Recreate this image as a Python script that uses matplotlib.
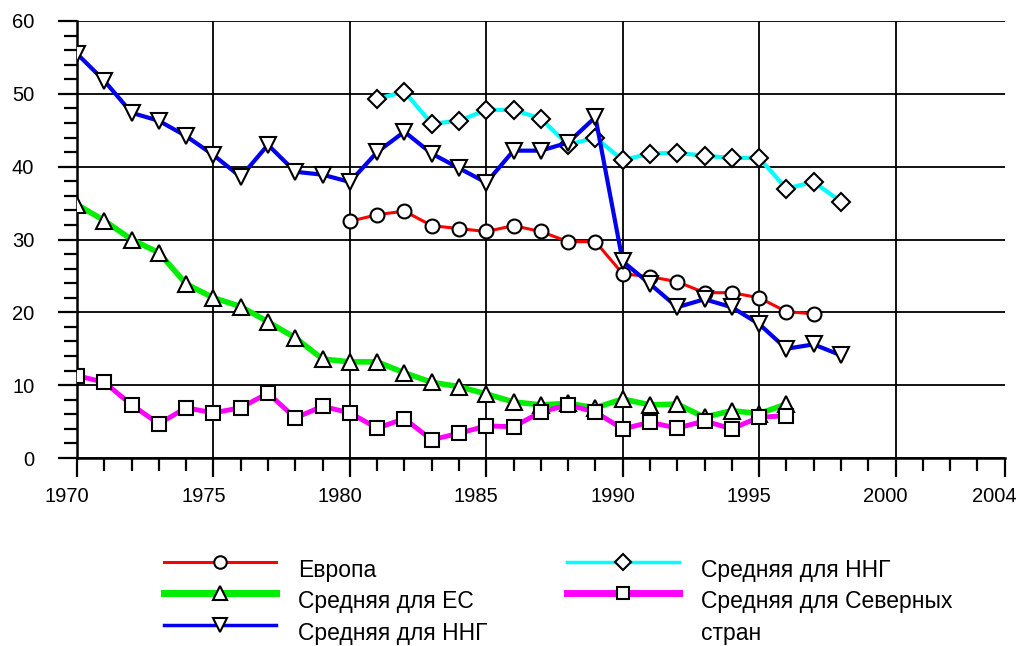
import numpy as np
import matplotlib
matplotlib.use('Agg')
import matplotlib.pyplot as plt
import matplotlib.transforms as mtransforms
from matplotlib.lines import Line2D
from matplotlib.ticker import MultipleLocator

plt.rcParams['font.family'] = ['Liberation Sans', 'DejaVu Sans']

# data
years_nng = list(range(1970, 1999))
nng_tri = [55.5, 51.8, 47.4, 46.3, 44.2, 41.6, 38.6, 43.0, 39.3, 38.9,
           37.9, 42.0, 44.8, 41.8, 39.8, 37.8, 42.2, 42.2, 43.3, 46.8,
           27.0, 23.9, 20.7, 21.8, 20.7, 18.4, 15.0, 15.6, 14.1]

years_nng2 = list(range(1981, 1999))
nng_dia = [49.3, 50.3, 45.9, 46.3, 47.8, 47.8, 46.6, 43.0, 44.0,
           40.9, 41.8, 41.9, 41.5, 41.2, 41.2, 37.0, 37.9, 35.2]

years_eur = list(range(1980, 1998))
europe = [32.5, 33.4, 33.9, 31.9, 31.5, 31.1, 31.9, 31.1, 29.7, 29.7,
          25.3, 24.9, 24.2, 22.7, 22.7, 22.0, 20.1, 19.8]

years_eu = list(range(1970, 1997))
eu = [34.8, 32.6, 30.0, 28.2, 23.9, 22.0, 20.8, 18.7, 16.5, 13.6,
      13.2, 13.2, 11.7, 10.4, 9.8, 8.8, 7.7, 7.3, 7.5, 6.9,
      8.1, 7.3, 7.4, 5.6, 6.5, 6.1, 7.4]

years_nord = list(range(1970, 1997))
nordic = [11.3, 10.4, 7.3, 4.7, 6.9, 6.2, 6.9, 8.9, 5.5, 7.1,
          6.2, 4.1, 5.4, 2.5, 3.4, 4.4, 4.3, 6.3, 7.3, 6.3,
          4.0, 4.9, 4.1, 5.1, 4.0, 5.6, 5.8]

xticks = [1970, 1975, 1980, 1985, 1990, 1995, 2000, 2004]
labels = ['Европа', 'Средняя для ЕС', 'Средняя для ННГ',
          'Средняя для ННГ', 'Средняя для Северных', 'стран']

fig = plt.figure(figsize=(10.21, 6.46), dpi=100)
ax = fig.add_axes([0.0754, 0.291, 0.9086, 0.6765])

mk = dict(markerfacecolor='white', markeredgecolor='black', markeredgewidth=1.5)
l_eur, = ax.plot(years_eur, europe, color='red', lw=2.2, marker='o', ms=10, zorder=5, **mk)
l_eu, = ax.plot(years_eu, eu, color='#00ee00', lw=4, marker='^', ms=12, zorder=4, **mk)
l_nng, = ax.plot(years_nng, nng_tri, color='#0000ee', lw=3, marker='v', ms=12, zorder=6, **mk)
l_dia, = ax.plot(years_nng2, nng_dia, color='cyan', lw=3, marker='D', ms=9, zorder=5, **mk)
l_nord, = ax.plot(years_nord, nordic, color='magenta', lw=3.5, marker='s', ms=10, zorder=4, **mk)

ax.set_xlim(1970, 2004)
ax.set_ylim(0, 60)
ax.set_xticks(xticks)
ax.xaxis.set_minor_locator(MultipleLocator(1))
ax.yaxis.set_major_locator(MultipleLocator(10))
ax.yaxis.set_minor_locator(MultipleLocator(2))
ax.tick_params(axis='both', which='major', direction='out', length=13.7, width=1.6, labelsize=14.5, color='black')
ax.tick_params(axis='both', which='minor', direction='out', length=9.4, width=1.6, color='black')
ax.tick_params(axis='x', which='major', pad=7)
ax.tick_params(axis='y', which='major', pad=17)

# x labels in the reference sit a little left of their ticks
shift = mtransforms.ScaledTranslation(-10 / 100, 0, fig.dpi_scale_trans)
for t in ax.get_xticklabels():
    t.set_transform(t.get_transform() + shift)

ax.grid(True, which='major', color='black', lw=1.3)
ax.xaxis.get_gridlines()[-1].set_visible(False)
ax.set_axisbelow(True)
for s in ['top', 'right']:
    ax.spines[s].set_visible(False)
for s in ['left', 'bottom']:
    ax.spines[s].set_linewidth(1.8)

# legend handles (thinner / thicker like the reference legend)
def handle(color, lw, marker, ms):
    return Line2D([], [], color=color, lw=lw, marker=marker, ms=ms, **mk)

handles = [handle('red', 2.2, 'o', 9), handle('#00ee00', 5, '^', 10),
           handle('#0000ee', 2.5, 'v', 10), handle('cyan', 2.5, 'D', 8),
           handle('magenta', 5, 's', 9), Line2D([], [], color='none')]

leg = fig.legend(handles=handles, labels=labels,
                 ncol=2, loc='upper left', bbox_to_anchor=(0.149, 0.163),
                 frameon=False, fontsize=16.5, handlelength=4.9, handletextpad=0.95,
                 columnspacing=3.47, labelspacing=0.36, borderpad=0)
for t in leg.get_texts():
    t.set_y(-7)

fig.savefig('out.png', dpi=100)
